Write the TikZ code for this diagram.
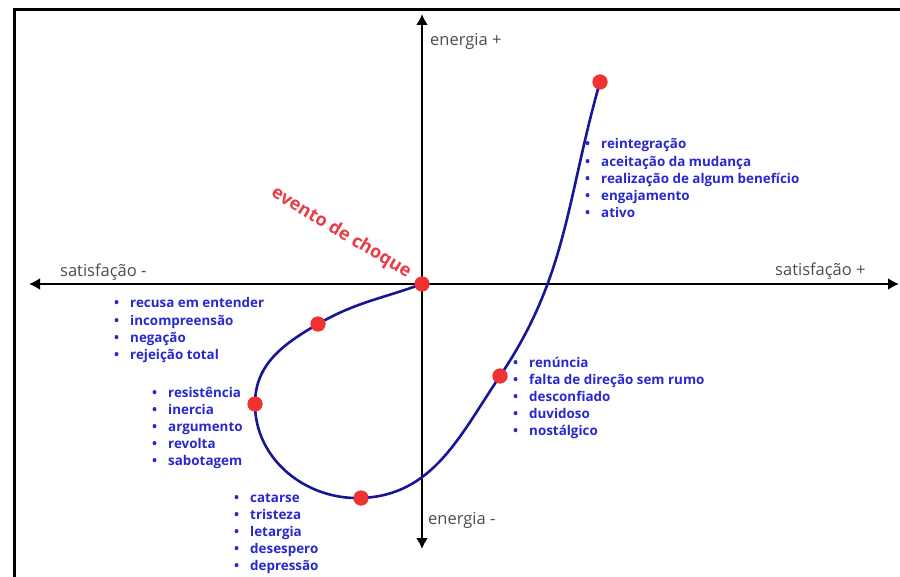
\documentclass[tikz,border=0pt]{standalone}
\usepackage{fontspec}
\setmainfont{Open Sans}
\usetikzlibrary{arrows.meta}
\definecolor{listblue}{RGB}{40,40,205}
\definecolor{curveblue}{RGB}{22,22,150}
\definecolor{dotred}{RGB}{240,50,50}
\definecolor{axisgray}{RGB}{75,75,75}
\definecolor{shockred}{RGB}{232,60,72}
\newcommand{\itm}[1]{\hbox{\makebox[16pt][l]{\textbullet}#1}}
\newcommand{\blist}[1]{\vtop{\baselineskip=17.2pt\lineskiplimit=-10pt #1}}
\tikzset{
  x=1pt, y=1pt,
  lst/.style={anchor=base west, inner sep=0pt, text=listblue, font=\bfseries\fontsize{13.4}{17}\selectfont},
  axlabel/.style={anchor=base west, inner sep=0pt, text=axisgray, font=\fontsize{16.5}{18}\selectfont},
  axisline/.style={line width=2.8pt, -{Latex[length=11pt,width=12pt]}},
  dot/.style={circle, fill=dotred, inner sep=0pt, minimum size=15pt},
  curve/.style={line width=2.6pt, draw=curveblue},
  frameline/.style={line width=3pt, black}
}
\begin{document}
\begin{tikzpicture}
\useasboundingbox (0,0) rectangle (900,-577);
% frame
\draw[frameline] (14,-580) -- (14,-10) -- (905,-10);
% axes
\coordinate (O) at (422,-284);
\coordinate (xl) at (29,-284);
\coordinate (xr) at (899,-284);
\coordinate (yt) at (422,-14);
\coordinate (yb) at (422,-549);
\draw[axisline] (O) -- (xl);
\draw[axisline] (O) -- (xr);
\draw[axisline] (O) -- (yt);
\draw[axisline] (O) -- (yb);
% axis labels
\node[axlabel] (ep) at (430,-46) {energia +};
\node[axlabel] (em) at (428,-524) {energia -};
\node[axlabel] (sm) at (60,-277) {satisfação -};
\node[axlabel] (sp) at (775,-276) {satisfação +};
% shock label
\node[text=shockred, font=\bfseries\fontsize{18}{20}\selectfont, rotate=-31, inner sep=0pt] (shock) at (341,-233) {evento de choque};
% dots
\node[dot] (d0) at (422,-284) {};
\node[dot] (d1) at (318,-324) {};
\node[dot] (d2) at (255,-404) {};
\node[dot] (d3) at (361,-498) {};
\node[dot] (d4) at (500,-376) {};
\node[dot] (d5) at (600,-82) {};
% curve
\draw[curve] (d0.center) to[out=200,in=30] (d1.center)
  to[out=210,in=90] (d2.center)
  to[out=270,in=182] (d3.center)
  to[out=2,in=236] (d4.center)
  to[out=56,in=254] (d5.center);
% redraw dots on top
\foreach \n in {d0,d1,d2,d3,d4,d5} \fill[dotred] (\n.center) circle (7.5pt);
% lists
\node[lst] (l1) at (585,-149) {\blist{\itm{reintegração}\itm{aceitação da mudança}\itm{realização de algum benefício}\itm{engajamento}\itm{ativo}}};
\node[lst] (l2) at (114,-308) {\blist{\itm{recusa em entender}\itm{incompreensão}\itm{negação}\itm{rejeição total}}};
\node[lst] (l3) at (152,-397) {\blist{\itm{resistência}\itm{inercia}\itm{argumento}\itm{revolta}\itm{sabotagem}}};
\node[lst] (l4) at (234,-502) {\blist{\itm{catarse}\itm{tristeza}\itm{letargia}\itm{desespero}\itm{depressão}}};
\node[lst] (l5) at (513,-367) {\blist{\itm{renúncia}\itm{falta de direção sem rumo}\itm{desconfiado}\itm{duvidoso}\itm{nostálgico}}};
\end{tikzpicture}
\end{document}
